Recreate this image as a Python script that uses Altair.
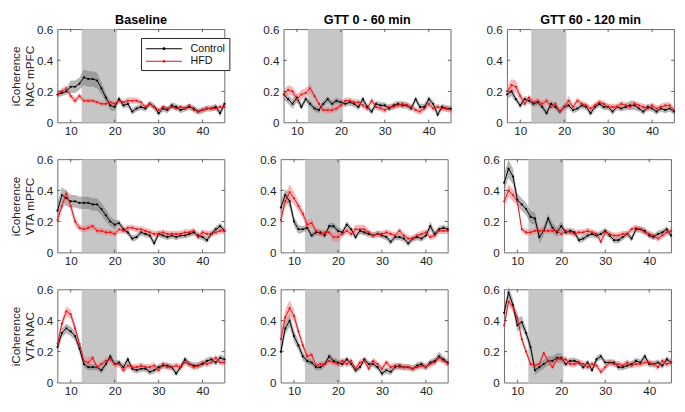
import altair as alt
import pandas as pd

FREQ = list(range(7, 46))
CONDITIONS = ["Baseline", "GTT 0 - 60 min", "GTT 60 - 120 min"]
REGIONS = ["NAC mPFC", "VTA mPFC", "VTA NAC"]
GROUPS = ["Control", "HFD"]
SHADE = [12.5, 20.5]
X_TICKS = [10, 20, 30, 40]
Y_TICKS = [0, 0.2, 0.4, 0.6]

# ---- NAC mPFC ----
ctrl_nm_base = [0.18,0.19,0.20,0.23,0.23,0.25,0.29,0.28,0.28,0.27,0.22,0.16,0.11,0.10,0.15,0.11,0.12,0.07,0.09,0.10,0.09,0.12,0.10,0.06,0.09,0.08,0.11,0.10,0.08,0.09,0.10,0.09,0.07,0.08,0.09,0.09,0.10,0.06,0.12]
hfd_nm_base = [0.18,0.20,0.22,0.17,0.14,0.17,0.14,0.14,0.14,0.13,0.12,0.12,0.13,0.12,0.14,0.13,0.14,0.14,0.14,0.13,0.10,0.12,0.10,0.08,0.10,0.09,0.10,0.09,0.10,0.09,0.11,0.08,0.07,0.08,0.09,0.09,0.09,0.10,0.10]
ctrl_nm_g1 = [0.18,0.15,0.12,0.16,0.10,0.15,0.12,0.09,0.08,0.12,0.15,0.12,0.14,0.13,0.12,0.13,0.12,0.10,0.15,0.10,0.07,0.12,0.11,0.11,0.09,0.11,0.12,0.11,0.11,0.09,0.15,0.10,0.10,0.15,0.12,0.05,0.10,0.09,0.09]
hfd_nm_g1 = [0.18,0.21,0.20,0.15,0.18,0.19,0.22,0.17,0.12,0.08,0.08,0.08,0.09,0.11,0.14,0.14,0.13,0.13,0.11,0.09,0.14,0.10,0.09,0.08,0.10,0.10,0.11,0.12,0.11,0.10,0.08,0.07,0.09,0.12,0.09,0.10,0.09,0.09,0.08]
ctrl_nm_g2 = [0.18,0.20,0.15,0.11,0.15,0.14,0.12,0.13,0.10,0.06,0.12,0.10,0.07,0.10,0.11,0.08,0.09,0.11,0.10,0.06,0.10,0.12,0.10,0.10,0.07,0.10,0.09,0.10,0.11,0.11,0.09,0.07,0.10,0.09,0.07,0.09,0.08,0.09,0.07]
hfd_nm_g2 = [0.20,0.24,0.23,0.17,0.12,0.16,0.13,0.14,0.12,0.14,0.10,0.12,0.07,0.10,0.14,0.10,0.14,0.12,0.11,0.09,0.11,0.13,0.12,0.10,0.10,0.10,0.12,0.11,0.10,0.12,0.11,0.10,0.09,0.11,0.09,0.10,0.11,0.11,0.08]
# ---- VTA mPFC ----
ctrl_vm_base = [0.27,0.37,0.35,0.33,0.33,0.32,0.32,0.32,0.31,0.31,0.28,0.24,0.20,0.18,0.19,0.15,0.13,0.09,0.10,0.13,0.12,0.11,0.06,0.12,0.11,0.10,0.11,0.10,0.11,0.11,0.12,0.13,0.11,0.10,0.08,0.12,0.15,0.17,0.14]
hfd_vm_base = [0.21,0.30,0.38,0.30,0.20,0.16,0.15,0.16,0.17,0.14,0.14,0.13,0.13,0.12,0.15,0.14,0.16,0.16,0.15,0.15,0.14,0.13,0.12,0.12,0.13,0.12,0.12,0.12,0.12,0.13,0.13,0.14,0.10,0.13,0.12,0.12,0.13,0.14,0.14]
ctrl_vm_g1 = [0.29,0.37,0.33,0.20,0.15,0.15,0.16,0.11,0.13,0.13,0.11,0.17,0.17,0.14,0.13,0.18,0.15,0.10,0.14,0.13,0.12,0.11,0.12,0.11,0.10,0.07,0.10,0.10,0.09,0.06,0.09,0.10,0.09,0.11,0.17,0.12,0.15,0.16,0.15]
hfd_vm_g1 = [0.21,0.33,0.39,0.35,0.30,0.25,0.18,0.19,0.14,0.12,0.13,0.13,0.10,0.10,0.12,0.14,0.12,0.15,0.15,0.15,0.13,0.11,0.12,0.12,0.13,0.12,0.11,0.14,0.11,0.09,0.09,0.11,0.12,0.13,0.10,0.11,0.14,0.14,0.14]
ctrl_vm_g2 = [0.45,0.54,0.49,0.34,0.31,0.28,0.23,0.22,0.10,0.14,0.22,0.16,0.13,0.17,0.13,0.14,0.13,0.08,0.09,0.11,0.12,0.11,0.12,0.14,0.11,0.08,0.08,0.10,0.12,0.09,0.15,0.15,0.14,0.11,0.10,0.12,0.13,0.15,0.11]
hfd_vm_g2 = [0.33,0.40,0.37,0.33,0.15,0.13,0.13,0.14,0.14,0.14,0.14,0.14,0.14,0.12,0.14,0.13,0.12,0.13,0.13,0.14,0.13,0.12,0.07,0.13,0.12,0.11,0.11,0.12,0.12,0.15,0.16,0.15,0.13,0.12,0.11,0.09,0.11,0.13,0.14]
# ---- VTA NAC ----
ctrl_vn_base = [0.23,0.32,0.35,0.33,0.30,0.22,0.12,0.10,0.10,0.10,0.08,0.12,0.17,0.12,0.13,0.10,0.15,0.09,0.08,0.09,0.09,0.07,0.08,0.10,0.11,0.11,0.10,0.06,0.10,0.15,0.12,0.11,0.11,0.12,0.14,0.15,0.13,0.16,0.15]
hfd_vn_base = [0.25,0.38,0.46,0.44,0.35,0.25,0.14,0.13,0.16,0.10,0.12,0.14,0.15,0.12,0.12,0.08,0.11,0.10,0.10,0.11,0.10,0.10,0.11,0.08,0.12,0.10,0.10,0.11,0.10,0.13,0.12,0.10,0.11,0.13,0.12,0.13,0.16,0.13,0.13]
ctrl_vn_g1 = [0.20,0.35,0.40,0.30,0.24,0.17,0.14,0.13,0.10,0.10,0.12,0.17,0.14,0.13,0.12,0.15,0.12,0.08,0.10,0.15,0.12,0.12,0.10,0.06,0.08,0.07,0.10,0.11,0.10,0.10,0.09,0.11,0.12,0.10,0.13,0.14,0.17,0.15,0.13]
hfd_vn_g1 = [0.28,0.42,0.48,0.43,0.33,0.24,0.17,0.18,0.11,0.12,0.12,0.14,0.13,0.12,0.14,0.12,0.14,0.09,0.13,0.14,0.09,0.14,0.12,0.09,0.13,0.10,0.11,0.10,0.10,0.10,0.09,0.10,0.11,0.10,0.12,0.13,0.16,0.14,0.12]
ctrl_vn_g2 = [0.45,0.58,0.50,0.37,0.39,0.32,0.23,0.08,0.10,0.12,0.14,0.14,0.16,0.16,0.12,0.14,0.14,0.13,0.10,0.13,0.08,0.15,0.17,0.13,0.13,0.13,0.10,0.10,0.11,0.12,0.14,0.13,0.17,0.12,0.12,0.13,0.11,0.15,0.13]
hfd_vn_g2 = [0.37,0.52,0.49,0.42,0.28,0.20,0.12,0.11,0.12,0.19,0.14,0.10,0.15,0.15,0.15,0.12,0.12,0.13,0.12,0.10,0.12,0.11,0.07,0.10,0.13,0.12,0.12,0.11,0.13,0.11,0.12,0.12,0.13,0.13,0.12,0.10,0.14,0.12,0.13]

# ---- standard errors (band half-widths) ----
sem_ctrl_nm_base = [0.02,0.02,0.02,0.04,0.04,0.04,0.05,0.05,0.05,0.05,0.04,0.03,0.03,0.03,0.02,0.02,0.02,0.02,0.02,0.02,0.02,0.02,0.02,0.02,0.02,0.02,0.02,0.02,0.02,0.02,0.02,0.02,0.02,0.02,0.02,0.02,0.02,0.02,0.02]
sem_hfd_nm_base = [0.02,0.02,0.02,0.02,0.02,0.02,0.015,0.015,0.015,0.015,0.015,0.015,0.015,0.015,0.015,0.015,0.02,0.02,0.02,0.015,0.015,0.015,0.015,0.015,0.015,0.015,0.015,0.015,0.015,0.015,0.015,0.015,0.015,0.015,0.015,0.015,0.015,0.015,0.015]
sem_ctrl_nm_g1 = [0.03,0.03,0.03,0.03,0.02,0.02,0.02,0.02,0.02,0.02,0.02,0.02,0.02,0.02,0.02,0.02,0.02,0.02,0.02,0.02,0.02,0.02,0.02,0.02,0.02,0.02,0.02,0.02,0.02,0.02,0.02,0.02,0.02,0.02,0.02,0.02,0.02,0.02,0.02]
sem_hfd_nm_g1 = [0.03,0.03,0.03,0.03,0.03,0.03,0.03,0.02,0.02,0.02,0.02,0.02,0.02,0.02,0.02,0.02,0.02,0.02,0.02,0.02,0.02,0.02,0.02,0.02,0.02,0.02,0.02,0.02,0.02,0.02,0.02,0.02,0.02,0.02,0.02,0.02,0.02,0.02,0.02]
sem_ctrl_nm_g2 = [0.03,0.03,0.02,0.02,0.02,0.02,0.02,0.02,0.02,0.02,0.02,0.02,0.02,0.02,0.02,0.02,0.02,0.02,0.02,0.02,0.02,0.02,0.02,0.02,0.02,0.02,0.02,0.02,0.03,0.03,0.02,0.02,0.02,0.02,0.02,0.02,0.02,0.02,0.02]
sem_hfd_nm_g2 = [0.03,0.04,0.04,0.03,0.02,0.02,0.02,0.02,0.02,0.02,0.02,0.02,0.02,0.02,0.03,0.02,0.02,0.02,0.02,0.02,0.02,0.02,0.02,0.02,0.02,0.02,0.02,0.02,0.02,0.02,0.02,0.02,0.02,0.02,0.02,0.02,0.02,0.02,0.02]
sem_ctrl_vm_base = [0.05,0.05,0.05,0.04,0.04,0.04,0.04,0.04,0.04,0.04,0.04,0.04,0.03,0.03,0.02,0.02,0.02,0.02,0.02,0.02,0.02,0.02,0.02,0.02,0.02,0.02,0.02,0.02,0.02,0.02,0.02,0.02,0.02,0.02,0.02,0.02,0.02,0.02,0.02]
sem_hfd_vm_base = [0.03,0.03,0.03,0.03,0.03,0.02,0.02,0.02,0.02,0.02,0.02,0.02,0.02,0.02,0.02,0.02,0.02,0.02,0.02,0.02,0.02,0.02,0.02,0.02,0.02,0.02,0.02,0.02,0.02,0.02,0.02,0.02,0.02,0.02,0.02,0.02,0.02,0.02,0.02]
sem_ctrl_vm_g1 = [0.04,0.04,0.04,0.03,0.03,0.02,0.02,0.02,0.02,0.02,0.02,0.02,0.02,0.02,0.02,0.02,0.02,0.02,0.02,0.02,0.02,0.02,0.02,0.02,0.02,0.02,0.02,0.02,0.02,0.02,0.02,0.02,0.02,0.02,0.03,0.02,0.02,0.02,0.02]
sem_hfd_vm_g1 = [0.03,0.04,0.05,0.04,0.03,0.03,0.03,0.03,0.02,0.02,0.02,0.02,0.03,0.03,0.02,0.02,0.02,0.03,0.03,0.03,0.02,0.02,0.02,0.02,0.02,0.02,0.02,0.02,0.02,0.02,0.02,0.02,0.02,0.02,0.02,0.02,0.02,0.02,0.02]
sem_ctrl_vm_g2 = [0.06,0.06,0.05,0.04,0.04,0.04,0.04,0.04,0.04,0.03,0.03,0.03,0.03,0.03,0.02,0.02,0.02,0.02,0.02,0.02,0.02,0.02,0.02,0.02,0.02,0.02,0.02,0.02,0.02,0.02,0.02,0.02,0.02,0.02,0.02,0.02,0.02,0.02,0.02]
sem_hfd_vm_g2 = [0.04,0.04,0.04,0.03,0.02,0.02,0.02,0.02,0.02,0.02,0.02,0.02,0.02,0.02,0.02,0.02,0.02,0.02,0.02,0.02,0.02,0.02,0.02,0.02,0.02,0.02,0.02,0.02,0.02,0.02,0.02,0.02,0.02,0.02,0.02,0.02,0.02,0.02,0.02]
sem_ctrl_vn_base = [0.03,0.03,0.03,0.03,0.03,0.03,0.02,0.02,0.02,0.02,0.02,0.02,0.02,0.02,0.02,0.02,0.02,0.02,0.02,0.02,0.02,0.02,0.02,0.02,0.02,0.02,0.02,0.02,0.02,0.02,0.02,0.02,0.02,0.02,0.02,0.02,0.02,0.02,0.02]
sem_hfd_vn_base = [0.03,0.03,0.03,0.03,0.03,0.03,0.03,0.03,0.02,0.02,0.02,0.02,0.02,0.02,0.02,0.02,0.02,0.02,0.02,0.02,0.02,0.02,0.02,0.02,0.02,0.02,0.02,0.02,0.02,0.02,0.02,0.02,0.02,0.02,0.02,0.02,0.02,0.02,0.02]
sem_ctrl_vn_g1 = [0.04,0.04,0.04,0.04,0.03,0.03,0.02,0.02,0.02,0.02,0.02,0.02,0.02,0.02,0.02,0.02,0.02,0.02,0.02,0.02,0.02,0.02,0.02,0.02,0.02,0.02,0.02,0.02,0.02,0.02,0.02,0.02,0.02,0.02,0.02,0.02,0.03,0.02,0.02]
sem_hfd_vn_g1 = [0.04,0.05,0.05,0.04,0.03,0.03,0.02,0.02,0.02,0.02,0.02,0.02,0.02,0.02,0.02,0.02,0.02,0.02,0.02,0.02,0.02,0.02,0.02,0.02,0.02,0.02,0.02,0.02,0.02,0.02,0.02,0.02,0.02,0.02,0.02,0.02,0.02,0.02,0.02]
sem_ctrl_vn_g2 = [0.04,0.04,0.04,0.04,0.04,0.03,0.03,0.03,0.03,0.03,0.03,0.03,0.03,0.03,0.02,0.02,0.02,0.02,0.02,0.02,0.02,0.02,0.02,0.02,0.02,0.02,0.02,0.02,0.02,0.02,0.02,0.02,0.02,0.02,0.02,0.02,0.02,0.02,0.02]
sem_hfd_vn_g2 = [0.03,0.03,0.03,0.03,0.03,0.02,0.02,0.02,0.02,0.02,0.02,0.02,0.02,0.02,0.02,0.02,0.02,0.02,0.02,0.02,0.02,0.02,0.02,0.02,0.02,0.02,0.02,0.02,0.02,0.02,0.02,0.02,0.02,0.02,0.02,0.02,0.02,0.02,0.02]

SERIES = {
    ("NAC mPFC", "Baseline"): (ctrl_nm_base, sem_ctrl_nm_base, hfd_nm_base, sem_hfd_nm_base),
    ("NAC mPFC", "GTT 0 - 60 min"): (ctrl_nm_g1, sem_ctrl_nm_g1, hfd_nm_g1, sem_hfd_nm_g1),
    ("NAC mPFC", "GTT 60 - 120 min"): (ctrl_nm_g2, sem_ctrl_nm_g2, hfd_nm_g2, sem_hfd_nm_g2),
    ("VTA mPFC", "Baseline"): (ctrl_vm_base, sem_ctrl_vm_base, hfd_vm_base, sem_hfd_vm_base),
    ("VTA mPFC", "GTT 0 - 60 min"): (ctrl_vm_g1, sem_ctrl_vm_g1, hfd_vm_g1, sem_hfd_vm_g1),
    ("VTA mPFC", "GTT 60 - 120 min"): (ctrl_vm_g2, sem_ctrl_vm_g2, hfd_vm_g2, sem_hfd_vm_g2),
    ("VTA NAC", "Baseline"): (ctrl_vn_base, sem_ctrl_vn_base, hfd_vn_base, sem_hfd_vn_base),
    ("VTA NAC", "GTT 0 - 60 min"): (ctrl_vn_g1, sem_ctrl_vn_g1, hfd_vn_g1, sem_hfd_vn_g1),
    ("VTA NAC", "GTT 60 - 120 min"): (ctrl_vn_g2, sem_ctrl_vn_g2, hfd_vn_g2, sem_hfd_vn_g2),
}

LINE_COLORS = ["#000000", "#e0161b"]
BAND_COLORS = ["#7a7a7a", "#f07a7c"]
FONT = "Liberation Sans"
W, H = 172, 96
TICK = 3

xscale = alt.Scale(domain=[7, 45], nice=False, zero=False)
yscale = alt.Scale(domain=[0, 0.6], nice=False)


def panel(region, cond, col_idx, row_idx):
    c, cs, h, hs = SERIES[(region, cond)]
    rows = []
    for g, m, s in (("Control", c, cs), ("HFD", h, hs)):
        for f, v, e in zip(FREQ, m, s):
            rows.append({"freq": f, "mean": v, "lo": v - e, "hi": v + e, "group": g})
    df = pd.DataFrame(rows)
    shade = pd.DataFrame({"x0": [SHADE[0]], "x1": [SHADE[1]]})
    xt = pd.DataFrame({"t": X_TICKS})
    yt = pd.DataFrame({"t": Y_TICKS[1:-1]})

    yaxis = alt.Axis(
        values=Y_TICKS, grid=False, ticks=False, labelPadding=5,
        labelExpr="datum.value == 0 ? '0' : format(datum.value, '.1f')",
        title=["iCoherence", region] if col_idx == 0 else None,
        titlePadding=0,
    )
    xaxis = alt.Axis(values=X_TICKS, grid=False, ticks=False, labelPadding=3, title=None)
    X = lambda f: alt.X(f, scale=xscale, axis=xaxis)
    Y = lambda f: alt.Y(f, scale=yscale, axis=yaxis)

    rect = alt.Chart(shade).mark_rect(color="#c6c6c6").encode(
        x=X("x0:Q"), x2="x1:Q", y=alt.value(0), y2=alt.value(H),
    )
    tick_style = dict(color="#333333", strokeWidth=0.8)
    tb = alt.Chart(xt).mark_rule(**tick_style).encode(x=X("t:Q"), y=alt.value(H), y2=alt.value(H - TICK))
    tt = alt.Chart(xt).mark_rule(**tick_style).encode(x=X("t:Q"), y=alt.value(0), y2=alt.value(TICK))
    tl = alt.Chart(yt).mark_rule(**tick_style).encode(y=Y("t:Q"), x=alt.value(0), x2=alt.value(TICK))
    tr = alt.Chart(yt).mark_rule(**tick_style).encode(y=Y("t:Q"), x=alt.value(W), x2=alt.value(W - TICK))

    band = alt.Chart(df).mark_area(opacity=0.55).encode(
        x=X("freq:Q"), y=Y("lo:Q"), y2="hi:Q",
        fill=alt.Fill("group:N", scale=alt.Scale(domain=GROUPS, range=BAND_COLORS), legend=None),
        detail="group:N",
    )
    color_kwargs = dict(scale=alt.Scale(domain=GROUPS, range=LINE_COLORS))
    if col_idx == 0 and row_idx == 0:
        color_kwargs["legend"] = alt.Legend(
            title=None, orient="none", legendX=86, legendY=9, direction="vertical",
            symbolType="M-1,0H5.2M1.95,0a0.15,0.15 0 1,0 0.3,0a0.15,0.15 0 1,0 -0.3,0",
            symbolSize=144, symbolStrokeWidth=1.1,
            labelFont=FONT, labelFontSize=11, labelColor="#111111",
            labelExpr="datum.label + '  '",
            strokeColor="#222222", fillColor="white",
            padding=4, rowPadding=1, labelOffset=33,
        )
    else:
        color_kwargs["legend"] = None
    line = alt.Chart(df).mark_line(strokeWidth=1, point=alt.OverlayMarkDef(size=5, filled=True)).encode(
        x=X("freq:Q"), y=Y("mean:Q"),
        color=alt.Color("group:N", **color_kwargs),
    )
    props = dict(width=W, height=H)
    if row_idx == 0:
        props["title"] = alt.TitleParams(cond, font=FONT, fontSize=13, fontWeight="bold", offset=-4)
    return alt.layer(rect, band, line, tb, tt, tl, tr).properties(**props)


rows_ch = []
for ri, region in enumerate(REGIONS):
    rows_ch.append(
        alt.hconcat(*[panel(region, cond, ci, ri) for ci, cond in enumerate(CONDITIONS)], spacing=32)
        .resolve_legend(color="independent")
    )

chart = alt.vconcat(*rows_ch, spacing=16).resolve_legend(color="independent").configure_view(
    stroke="#444444", strokeWidth=0.8
).configure_axis(
    labelFont=FONT, labelFontSize=12, titleFont=FONT, titleFontSize=12,
    titleFontWeight="normal", labelColor="#222222", titleColor="#222222", domain=False,
).properties(padding={"left": 1, "top": 0, "right": 0, "bottom": 0})

chart.save("out.html", embed_options={"renderer": "svg", "actions": False})
